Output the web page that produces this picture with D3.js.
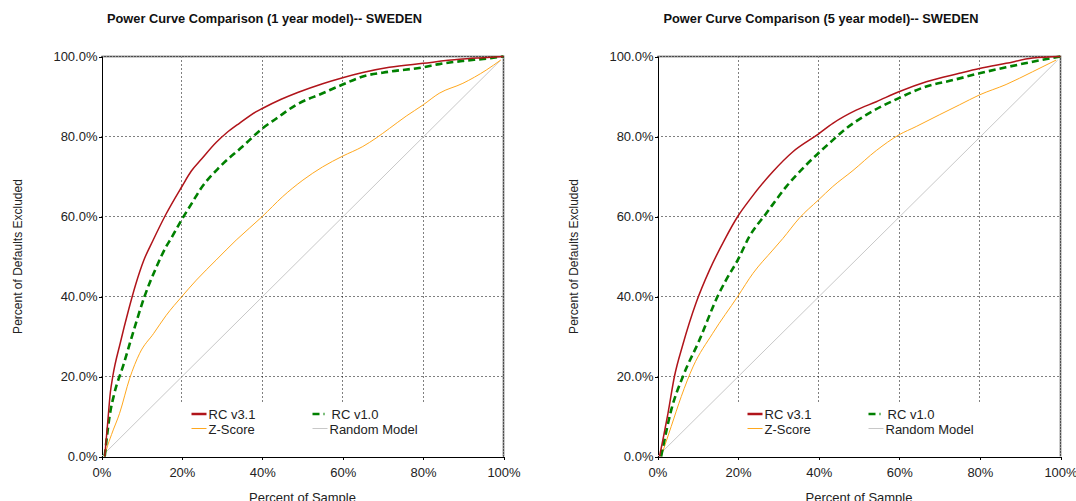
<!DOCTYPE html>
<html>
<head>
<meta charset="utf-8">
<script src="https://cdn.jsdelivr.net/npm/d3@7"></script>
<style>
  body { margin: 0; background: #fff; }
  svg { display: block; font-family: "Liberation Sans", Arial, sans-serif; }
  .axis path, .axis line { stroke: #000; shape-rendering: crispEdges; }
  .axis text { font-size: 13px; fill: #222; }
</style>
</head>
<body>
<div id="chart"></div>
<script>
// tick values (percent)
const xTicks = [0, 20, 40, 60, 80, 100];
const yTicks = [0, 20, 40, 60, 80, 100];

// 1 year model -- [percent of sample, percent of defaults excluded]
const rc31Year1 = [[0.8,0],[1.5,8],[2.2,16],[2.8,20],[4.7,28.5],[6.7,36.5],[8.5,43],[10.5,49],[12.8,54],
  [16,60.5],[20,67.5],[22.3,71.3],[25,74.5],[28.5,78.5],[31,80.8],[34.3,83.3],[38.5,86.2],[40,87],
  [44.7,89.3],[48.8,91],[55,93.2],[60,94.7],[65,96],[71.6,97.3],[80,98.3],[89,99.3],[95,99.7],[100,100]];
const rc10Year1 = [[0.8,0],[2,10],[3.2,15.8],[5.3,22.4],[7.8,30.8],[10.7,40],[13.5,47],[16.1,52.5],[17.3,54.5],
  [20,59.3],[22.7,63.7],[24.4,66.5],[29.4,72.4],[35.1,77.5],[40,82],[43.5,84.5],[48.4,87.9],[55,90.8],
  [60,93],[65,95],[71.6,96.2],[80,97.3],[84,98.1],[90,98.9],[95,99.4],[100,100]];
const zScoreYear1 = [[0.8,0],[1.2,1.6],[2.5,5.5],[4.5,10.8],[7,19.5],[9.5,25.8],[13,30.8],[16.1,35.3],[20,40],
  [23.6,44.1],[28.5,49.1],[33.5,54.1],[40,60],[45.1,65],[50.1,69.1],[55,72.4],[60,75.1],[65,77.5],
  [68.3,79.6],[71.6,82],[75.8,85.1],[80,87.9],[84,90.8],[89.9,93.3],[95.7,96.6],[99.3,99.1]];

// 5 year model
const rc31Year5 = [[0.5,0],[1.5,5],[2.6,10.8],[4.2,20],[6.3,28],[9.6,38.5],[12.9,46.6],[16.6,54.1],[19.9,60],
  [22.8,64.1],[28.6,71.2],[33.6,76.2],[39.9,80.6],[43.5,83.3],[49.3,86.6],[54.3,88.7],[59.9,91.2],
  [66.7,93.7],[74.9,95.8],[79.9,97],[86.5,98.3],[93.1,99.6],[100,100]];
const rc10Year5 = [[0.9,0],[1.5,3],[3.4,11.6],[6.3,20],[10.4,29.1],[14.9,40],[17,44.1],[19.9,49.1],[22.8,55],
  [27,60.8],[31.9,67.4],[36.9,72.9],[39.9,75.8],[43.5,79.1],[46.8,82],[51.8,85.4],[59.9,89.6],
  [66.7,92.5],[73.3,94.1],[79.9,95.8],[86.5,97.3],[93.1,98.7],[100,100]];
const zScoreYear5 = [[0.9,0],[3.4,7.5],[5.9,15],[8.8,22.4],[13.7,30.8],[19.9,40],[23.7,45.8],[28.6,51.6],
  [31.1,54.5],[35.2,59.6],[39.9,64.1],[43.5,67.5],[48.5,71.5],[54.3,76.5],[59.9,80.4],[64.2,82.5],
  [69.9,85.4],[74.9,87.9],[79.9,90.4],[86.5,93],[93.1,96.2],[98.9,99.1]];

const randomModel = [[0,0],[99.3,99.1]];

const seriesNames = ['RC v3.1', 'RC v1.0', 'Z-Score', 'Random Model'];

// series styles, same order as seriesNames
const styles = [
  {color: '#b0141a', width: 1.5, legendWidth: 2.5, dash: null},
  {color: '#008000', width: 2.6, legendWidth: 2.6, dash: '7,4'},
  {color: '#ffa81e', width: 1,   legendWidth: 1,   dash: null},
  {color: '#c8c8c8', width: 1,   legendWidth: 1,   dash: null}
];

const svg = d3.select('#chart').append('svg')
  .attr('width', 1076)
  .attr('height', 501);

function drawChart(opts) {
  const w = opts.width, h = 400;
  const g = svg.append('g')
    .attr('transform', `translate(${opts.left},56.5)`);

  const x = d3.scaleLinear().domain([0, 100]).range([0, w]);
  const y = d3.scaleLinear().domain([0, 100]).range([h, 0]);

  // title
  svg.append('text')
    .attr('x', opts.left + w / 2 - 38)
    .attr('y', 23)
    .attr('text-anchor', 'middle')
    .style('font-size', '12.8px')
    .style('font-weight', 'bold')
    .style('fill', '#111')
    .text(opts.title);

  // dotted grid
  g.append('g').selectAll('line')
    .data(yTicks.filter(d => d > 0 && d < 100))
    .enter().append('line')
      .attr('x1', 0).attr('x2', w)
      .attr('y1', d => y(d)).attr('y2', d => y(d))
      .attr('stroke', '#000').attr('stroke-dasharray', '1,3');
  g.append('g').selectAll('line')
    .data(xTicks.filter(d => d > 0 && d < 100))
    .enter().append('line')
      .attr('x1', d => Math.round(x(d))).attr('x2', d => Math.round(x(d)))
      .attr('y1', 0).attr('y2', h)
      .attr('stroke', '#000').attr('stroke-dasharray', '1,3');

  // frame on top and right
  const frame = `M0,0H${w}V${h}`;
  g.append('path').attr('d', frame).attr('fill', 'none')
    .attr('stroke', '#9a9a9a').attr('stroke-width', 2);
  g.append('path').attr('d', frame).attr('fill', 'none')
    .attr('stroke', '#000').attr('stroke-dasharray', '1,2');

  // legend background hides the grid behind it
  g.append('rect')
    .attr('x', 76).attr('y', h - 53)
    .attr('width', 264).attr('height', 52)
    .attr('fill', '#fff');

  // axes
  g.append('g').attr('class', 'axis')
    .attr('transform', `translate(0,${h})`)
    .call(d3.axisBottom(x).tickValues(xTicks).tickSize(3).tickPadding(8)
      .tickFormat(d => d + '%'));
  g.append('g').attr('class', 'axis')
    .call(d3.axisLeft(y).tickValues(yTicks).tickSize(3).tickPadding(1)
      .tickFormat(d => d.toFixed(1) + '%'));

  // axis labels
  g.append('text')
    .attr('x', w / 2).attr('y', h + 45)
    .attr('text-anchor', 'middle')
    .style('font-size', '13px').style('fill', '#222')
    .text('Percent of Sample');
  g.append('text')
    .attr('transform', `translate(-80,${h / 2}) rotate(-90)`)
    .attr('text-anchor', 'middle')
    .style('font-size', '12px').style('fill', '#222')
    .text('Percent of Defaults Excluded');

  // curves, random model first so it sits underneath
  const line = d3.line()
    .x(d => x(d[0])).y(d => y(d[1]))
    .curve(d3.curveMonotoneX);
  const order = [3, 2, 1, 0];
  order.forEach(i => {
    g.append('path')
      .datum(opts.series[i])
      .attr('d', line)
      .attr('fill', 'none')
      .attr('stroke', styles[i].color)
      .attr('stroke-width', styles[i].width)
      .attr('stroke-dasharray', styles[i].dash)
      .attr('stroke-linejoin', 'round');
  });

  // legend
  const leg = g.append('g').attr('transform', `translate(90,${h - 42.5})`);
  seriesNames.forEach((name, i) => {
    const col = i % 2 === 0 ? 0 : 121;
    const row = i < 2 ? 0 : 14.5;
    const item = leg.append('g').attr('transform', `translate(${col},${row})`);
    const len = i === 1 ? 12 : 15;
    item.append('line')
      .attr('x1', 0).attr('x2', len)
      .attr('y1', 0).attr('y2', 0)
      .attr('stroke', styles[i].color)
      .attr('stroke-width', styles[i].legendWidth)
      .attr('stroke-dasharray', styles[i].dash);
    item.append('text')
      .attr('x', len + 2 + (i === 1 ? 5 : 0))
      .attr('y', 5)
      .style('font-size', '13px').style('fill', '#222')
      .text(name);
  });
}

drawChart({
  left: 101.5, width: 402,
  title: 'Power Curve Comparison (1 year model)-- SWEDEN',
  series: [rc31Year1, rc10Year1, zScoreYear1, randomModel]
});

drawChart({
  left: 657.5, width: 403,
  title: 'Power Curve Comparison (5 year model)-- SWEDEN',
  series: [rc31Year5, rc10Year5, zScoreYear5, randomModel]
});
</script>
</body>
</html>
